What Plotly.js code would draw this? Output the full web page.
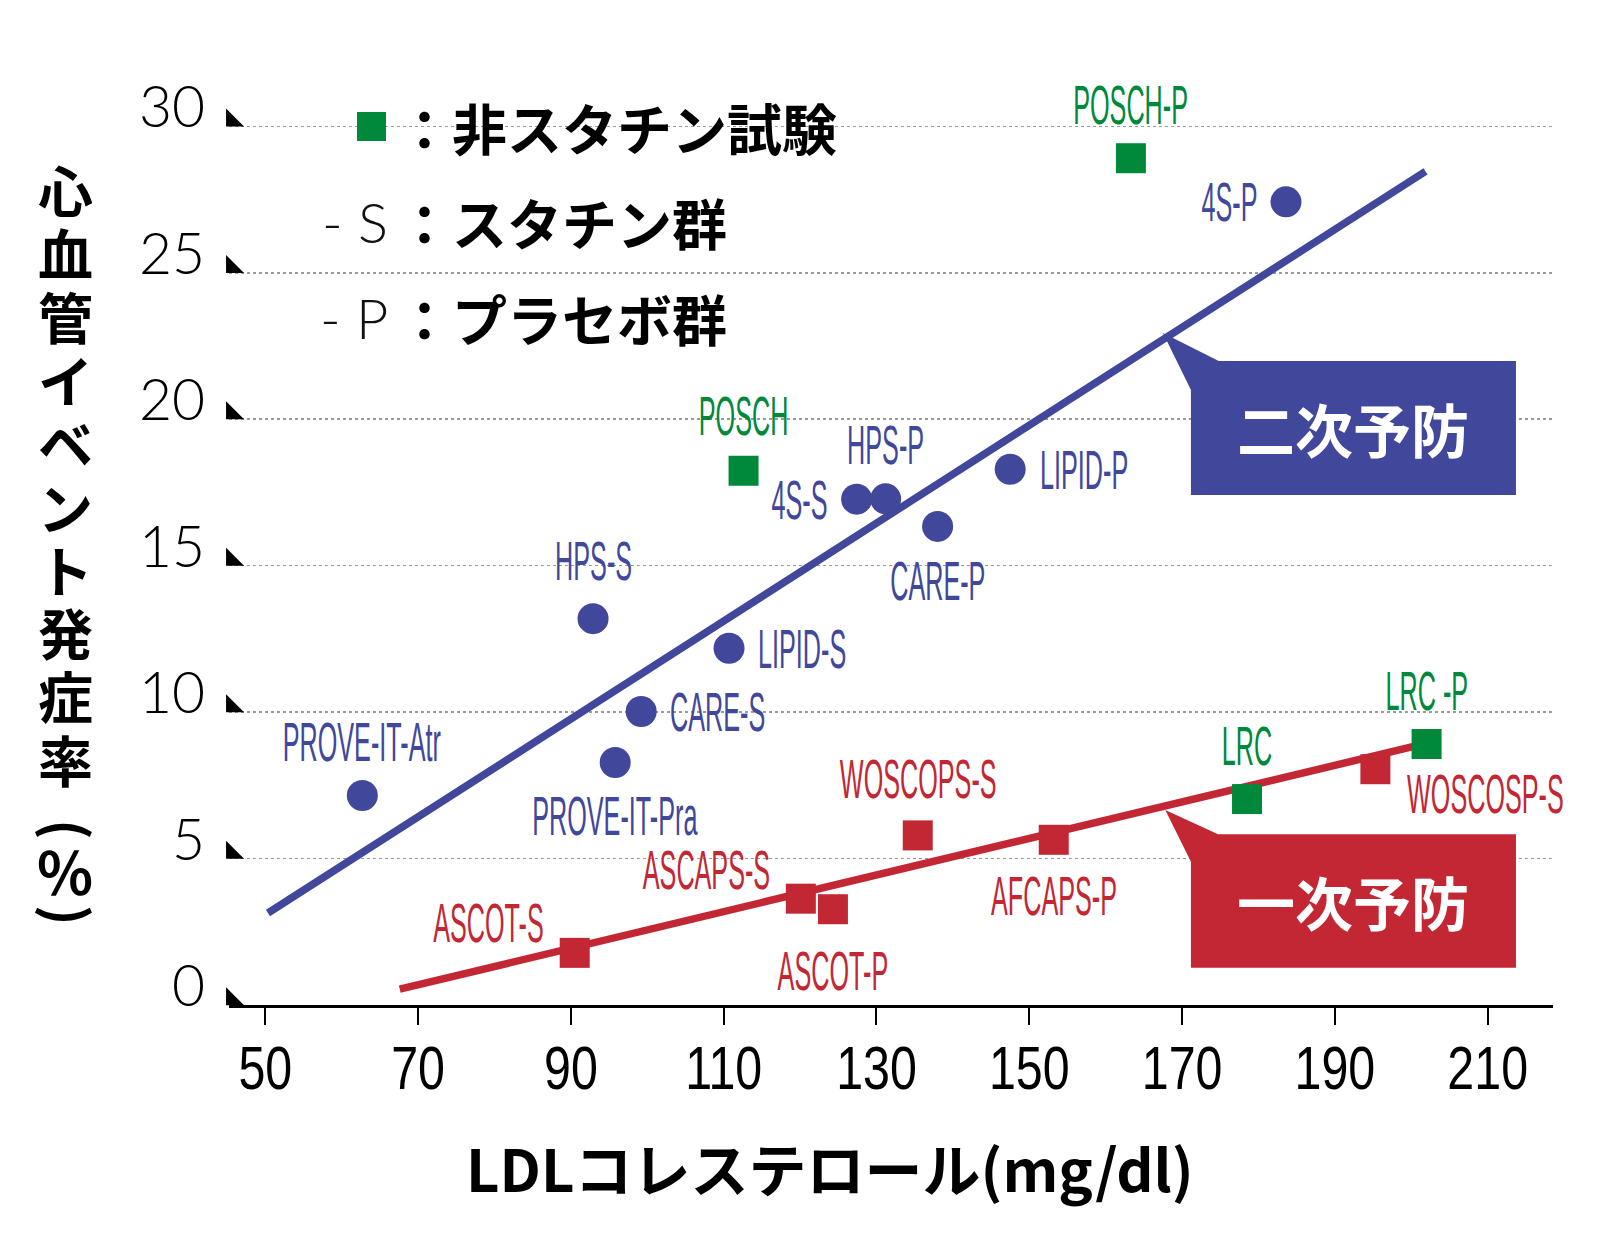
<!DOCTYPE html>
<html>
<head>
<meta charset="utf-8">
<script src="https://cdn.plot.ly/plotly-3.0.1.min.js"></script>
<style>
html,body{margin:0;padding:0;background:#fff;}
#chart{width:1600px;height:1252px;}
</style>
</head>
<body>
<div id="chart"></div>
<script>
// ---------------- DATA ----------------
// Statin trials (blue circles)
const statinNames = ['PROVE-IT-Atr','HPS-S','PROVE-IT-Pra','CARE-S','LIPID-S','4S-S','HPS-P','CARE-P','LIPID-P','4S-P'];
const statinLDL   = [62.7, 92.9, 95.8, 99.2, 110.7, 127.4, 131.2, 138.0, 147.5, 183.6];
const statinRate  = [7.15, 13.19, 8.28, 10.02, 12.18, 17.27, 17.28, 16.34, 18.29, 27.42];

// Non-statin trials (green squares)
const nonStatinNames = ['POSCH','POSCH-P','LRC','LRC -P'];
const nonStatinLDL   = [112.6, 163.3, 178.5, 202.0];
const nonStatinRate  = [18.24, 28.91, 7.03, 8.91];

// Primary prevention statin trials (red squares)
const primaryNames = ['ASCOT-S','ASCAPS-S','ASCOT-P','WOSCOPS-S','AFCAPS-P','WOSCOSP-S'];
const primaryLDL   = [90.5, 120.1, 124.3, 135.4, 153.2, 195.3];
const primaryRate  = [1.78, 3.63, 3.27, 5.79, 5.64, 8.05];

// Trend lines
const secondaryLineLDL  = [50.35, 201.86];
const secondaryLineRate = [3.14, 28.46];
const primaryLineLDL    = [67.6, 201.0];
const primaryLineRate   = [0.54, 8.87];

// Axis ticks
const xTickVals = [50, 70, 90, 110, 130, 150, 170, 190, 210];
const yTickVals = [0, 5, 10, 15, 20, 25, 30];

// Texts
const xTitle = 'LDLコレステロール(mg/dl)';
const yTitleMain = ['心','血','管','イ','ベ','ン','ト','発','症','率'];
const yTitleUnit = ['(', '％', ')'];
const legendRows = [
  {key: '', text: '：非スタチン試験'},
  {key: '- S', text: '：スタチン群'},
  {key: '- P', text: '：プラセボ群'}
];
const secondaryLabel = '二次予防';
const primaryLabel = '一次予防';

// ---------------- STYLE / LAYOUT ----------------
const BLUE = '#41479b', RED = '#c22733', GREEN = '#00883b';
const SANS = '"Liberation Sans", Arial, sans-serif';
const LIGHT = 'Lato, "Noto Sans", sans-serif';
const CJK = '"Noto Sans CJK JP", "Noto Sans CJK SC", sans-serif';
const LABEL_SQUEEZE = 0.45, XTICK_SQUEEZE = 0.78;
const W = 1600, H = 1252;
const M = {l: 229, r: 47, t: 82, b: 247};
const plotW = W - M.l - M.r, plotH = H - M.t - M.b;
const xRange = [45.25, 45.25 + plotW / 7.64];
const yRange = [0, plotH / 29.29];
const px = v => (v - M.l) / plotW;
const py = v => (M.t + plotH - v) / plotH;

// label placement (pixels relative to marker centre)
const statinLabelPos = [
  ['center', 0, 54], ['center', 0, 58], ['center', 0, -53], ['left', 27, 0], ['left', 27, 0],
  ['right', -27, 0], ['center', 0, 54], ['center', 0, -54], ['left', 28, 0], ['right', -26, 0]
];
const nonStatinLabelPos = [['center', 0, 55], ['center', 0, 54], ['center', 0, 54], ['center', 0, 54]];
const primaryLabelPos = [
  ['right', -29, 30], ['right', -29, 29], ['center', 0, -61], ['center', 0, 57], ['center', 0, -56], ['left', 30, -24]
];

function labelAnns(names, xs, ys, pos, color) {
  return names.map((n, i) => ({
    x: xs[i], y: ys[i], xref: 'x', yref: 'y', text: n, showarrow: false,
    xanchor: pos[i][0], yanchor: 'middle', xshift: pos[i][1], yshift: pos[i][2],
    font: {family: SANS, size: 56, color: color}
  }));
}

const traces = [
  {x: secondaryLineLDL, y: secondaryLineRate, mode: 'lines', line: {color: BLUE, width: 7.5}, hoverinfo: 'skip'},
  {x: primaryLineLDL, y: primaryLineRate, mode: 'lines', line: {color: RED, width: 7.5}, hoverinfo: 'skip'},
  {x: statinLDL, y: statinRate, text: statinNames, mode: 'markers', marker: {color: BLUE, size: 31, symbol: 'circle'}},
  {x: primaryLDL, y: primaryRate, text: primaryNames, mode: 'markers', marker: {color: RED, size: 30, symbol: 'square'}},
  {x: nonStatinLDL, y: nonStatinRate, text: nonStatinNames, mode: 'markers', marker: {color: GREEN, size: 30, symbol: 'square'}},
  // tick triangles at the left end of each gridline
  {x: yTickVals.map(() => xRange[0] + 0.4), y: yTickVals.map(v => v + 0.2), mode: 'markers',
   marker: {color: '#000', size: 20, symbol: 'triangle-sw'}, cliponaxis: false, hoverinfo: 'skip'}
];

const secBox = {tip: [167.5, 22.94], nx: 174.8, ny: 21.0, x0: 171.16, x1: 213.7, y0: 17.41, y1: 21.99};
const priBox = {tip: [167.8, 6.66], nx: 174.7, ny: 4.89, x0: 171.16, x1: 213.7, y0: 1.27, y1: 5.83};
const boxPath = b => `M${b.tip[0]},${b.tip[1]} L${b.nx},${b.y1} L${b.x1},${b.y1} L${b.x1},${b.y0} L${b.x0},${b.y0} L${b.x0},${b.ny} Z`;

const shapes = [
  {type: 'path', xref: 'x', yref: 'y', path: boxPath(secBox), fillcolor: BLUE, line: {width: 0}},
  {type: 'path', xref: 'x', yref: 'y', path: boxPath(priBox), fillcolor: RED, line: {width: 0}},
  {type: 'rect', xref: 'paper', yref: 'paper', x0: px(357), x1: px(386), y0: py(141), y1: py(112), fillcolor: GREEN, line: {width: 0}}
];

const legendY = [126, 221, 317];
const annotations = []
  .concat(labelAnns(statinNames, statinLDL, statinRate, statinLabelPos, BLUE))
  .concat(labelAnns(nonStatinNames, nonStatinLDL, nonStatinRate, nonStatinLabelPos, GREEN))
  .concat(labelAnns(primaryNames, primaryLDL, primaryRate, primaryLabelPos, RED));
const nLabelAnns = annotations.length;

legendRows.forEach((r, i) => {
  if (r.key) annotations.push({xref: 'paper', yref: 'paper', x: px(390), y: py(legendY[i]), text: r.key, showarrow: false,
    xanchor: 'right', yanchor: 'middle', font: {family: LIGHT, size: 56, color: '#111', weight: 300}});
  annotations.push({xref: 'paper', yref: 'paper', x: px(395), y: py(legendY[i]), text: r.text, showarrow: false,
    xanchor: 'left', yanchor: 'middle', font: {family: CJK, size: 55, color: '#000', weight: 700}});
});

annotations.push({x: (secBox.x0 + secBox.x1) / 2, y: (secBox.y0 + secBox.y1) / 2, xref: 'x', yref: 'y', text: secondaryLabel,
  showarrow: false, font: {family: CJK, size: 58, color: '#fff', weight: 700}});
annotations.push({x: (priBox.x0 + priBox.x1) / 2, y: (priBox.y0 + priBox.y1) / 2, xref: 'x', yref: 'y', text: primaryLabel,
  showarrow: false, font: {family: CJK, size: 58, color: '#fff', weight: 700}});

annotations.push({xref: 'paper', yref: 'paper', x: px(830), y: py(1167), text: xTitle, showarrow: false,
  xanchor: 'center', yanchor: 'middle', font: {family: CJK, size: 58, color: '#000', weight: 700}});

// vertical (stacked) y-axis title: line pitch from the base size, glyphs drawn larger
const stack = (chars, size) => chars.map(c => '<span style="font-size:' + size + 'px">' + c + '</span>').join('<br>');
annotations.push({xref: 'paper', yref: 'paper', x: px(65), y: py(473), showarrow: false,
  text: stack(yTitleMain, 55), xanchor: 'center', yanchor: 'middle',
  font: {family: CJK, size: 48.7, color: '#000', weight: 700}});
// unit "(%)" set vertically: brackets turned a quarter turn
const unitY = [829, 870, 915], unitAngle = [90, 0, 90], unitSize = [55, 58, 55], unitDx = [5, 0, 5];
yTitleUnit.forEach((c, i) => {
  annotations.push({xref: 'paper', yref: 'paper', x: px(65), y: py(unitY[i]), xshift: unitDx[i], showarrow: false,
    text: c, textangle: unitAngle[i], xanchor: 'center', yanchor: 'middle',
    font: {family: CJK, size: unitSize[i], color: '#000', weight: 700}});
});

const layout = {
  width: W, height: H,
  margin: M,
  paper_bgcolor: '#fff', plot_bgcolor: '#fff',
  showlegend: false,
  xaxis: {
    range: xRange, tickvals: xTickVals, ticks: 'outside', ticklen: 17, tickwidth: 2, tickcolor: '#000',
    showline: true, linecolor: '#000', linewidth: 3, showgrid: false, zeroline: false,
    tickfont: {family: SANS, size: 62, color: '#000'}, ticklabelstandoff: -10, fixedrange: true
  },
  yaxis: {
    range: yRange, tickvals: yTickVals, ticks: '', showline: false, zeroline: false,
    showgrid: true, gridcolor: '#9a9a9a', griddash: 'dot', gridwidth: 1.5,
    tickfont: {family: LIGHT, size: 57, color: '#000', weight: 300}, ticklabelstandoff: 23, ticklabelshift: -19, fixedrange: true
  },
  shapes: shapes,
  annotations: annotations
};

// horizontally condense a text element around its anchor (the reference uses a condensed face)
function squeeze(t, s, anchor) {
  const b = t.getBBox();
  const ox = anchor === 'left' ? b.x : anchor === 'right' ? b.x + b.width : b.x + b.width / 2;
  const prev = t.getAttribute('transform') || '';
  t.setAttribute('transform', `${prev} translate(${ox},0) scale(${s},1) translate(${-ox},0)`.trim());
}

Plotly.newPlot('chart', traces, layout, {displayModeBar: false, staticPlot: true}).then(gd => {
  gd.querySelectorAll('g.annotation').forEach(g => {
    const idx = +g.getAttribute('data-index');
    if (idx < nLabelAnns) {
      const t = g.querySelector('text.annotation-text');
      if (t) squeeze(t, LABEL_SQUEEZE, layout.annotations[idx].xanchor);
    }
  });
  gd.querySelectorAll('g.xtick text').forEach(t => squeeze(t, XTICK_SQUEEZE, 'center'));
});
</script>
</body>
</html>
